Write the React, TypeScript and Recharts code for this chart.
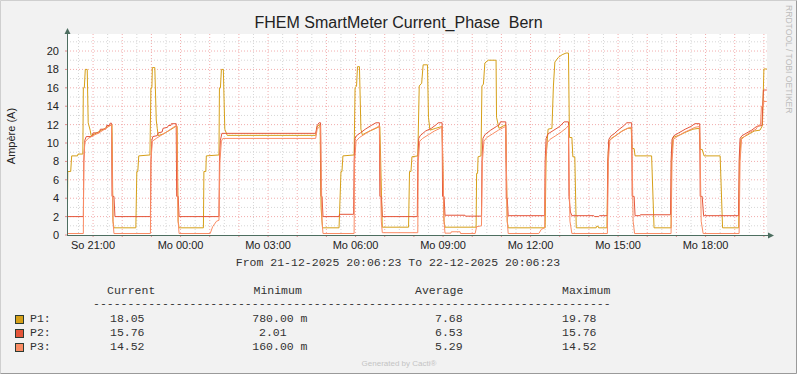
import {LineChart, Line, XAxis, YAxis, CartesianGrid} from "recharts";

// time strings ("So" = Sunday 21-12, "Mo" = Monday 22-12), values in Ampère
const P1: [string, number][] = [
  ["So 20:07", 0.78], ["So 20:08", 6.9], ["So 20:14", 6.9], ["So 20:16", 8.6], ["So 20:28", 8.6], ["So 20:29", 8.8], ["So 20:39", 8.8],
  ["So 20:40", 16.0], ["So 20:42", 16.0], ["So 20:44", 18.0], ["So 20:48", 18.0], ["So 20:50", 12.2], ["So 20:54", 11.4], ["So 20:56", 10.8],
  ["So 21:04", 11.0], ["So 21:14", 11.3], ["So 21:25", 11.6], ["So 21:35", 11.9], ["So 21:39", 12.0], ["So 21:41", 1.5], ["So 21:43", 0.78],
  ["So 22:28", 0.78], ["So 22:30", 6.9], ["So 22:32", 6.9], ["So 22:34", 8.6], ["So 22:57", 8.7], ["So 22:59", 16.0], ["So 23:01", 16.0],
  ["So 23:02", 18.2], ["So 23:07", 18.2], ["So 23:10", 12.5], ["So 23:12", 11.6], ["So 23:14", 10.8], ["So 23:25", 11.0], ["So 23:38", 11.4],
  ["So 23:50", 11.8], ["So 23:53", 11.8], ["So 23:55", 1.5], ["So 23:57", 0.78],
  ["Mo 00:47", 0.78], ["Mo 00:48", 6.9], ["Mo 00:52", 6.9], ["Mo 00:53", 8.6], ["Mo 01:19", 8.7], ["Mo 01:20", 16.0], ["Mo 01:22", 16.0],
  ["Mo 01:24", 18.0], ["Mo 01:28", 18.0], ["Mo 01:31", 11.5], ["Mo 01:36", 10.83], ["Mo 04:38", 10.83], ["Mo 04:41", 11.8], ["Mo 04:47", 12.0],
  ["Mo 04:49", 3.0], ["Mo 04:52", 0.78],
  ["Mo 05:26", 0.78], ["Mo 05:30", 6.9], ["Mo 05:32", 6.9], ["Mo 05:34", 8.6], ["Mo 05:57", 8.7], ["Mo 05:59", 16.0], ["Mo 06:02", 16.2],
  ["Mo 06:04", 18.3], ["Mo 06:08", 18.3], ["Mo 06:11", 11.5], ["Mo 06:14", 10.9], ["Mo 06:25", 11.2], ["Mo 06:38", 11.5], ["Mo 06:50", 11.8],
  ["Mo 06:55", 0.85],
  ["Mo 07:49", 0.85], ["Mo 07:51", 6.9], ["Mo 07:54", 6.9], ["Mo 07:56", 8.5], ["Mo 08:08", 8.6], ["Mo 08:11", 16.2], ["Mo 08:16", 16.5],
  ["Mo 08:19", 18.5], ["Mo 08:28", 18.5], ["Mo 08:30", 12.8], ["Mo 08:33", 11.4], ["Mo 08:45", 11.6], ["Mo 08:58", 11.8], ["Mo 09:02", 1.5],
  ["Mo 09:04", 0.85],
  ["Mo 10:08", 0.85], ["Mo 10:09", 6.7], ["Mo 10:11", 6.7], ["Mo 10:12", 8.5], ["Mo 10:18", 8.6], ["Mo 10:20", 16.2], ["Mo 10:23", 16.4],
  ["Mo 10:26", 18.7], ["Mo 10:33", 19.0], ["Mo 10:49", 19.0], ["Mo 10:50", 12.8], ["Mo 10:55", 11.6], ["Mo 11:09", 12.0], ["Mo 11:12", 1.5],
  ["Mo 11:14", 0.78],
  ["Mo 12:30", 0.78], ["Mo 12:32", 8.5], ["Mo 12:36", 11.5], ["Mo 12:44", 11.6], ["Mo 12:47", 16.2], ["Mo 12:50", 18.8], ["Mo 12:57", 19.3],
  ["Mo 13:05", 19.6], ["Mo 13:13", 19.78], ["Mo 13:18", 19.78], ["Mo 13:20", 10.6], ["Mo 13:25", 10.6], ["Mo 13:27", 8.5], ["Mo 13:31", 8.5],
  ["Mo 13:34", 0.78], ["Mo 14:15", 0.78], ["Mo 14:16", 0.95], ["Mo 14:19", 0.95], ["Mo 14:20", 0.78],
  ["Mo 14:37", 0.78], ["Mo 14:39", 8.0], ["Mo 14:41", 10.2], ["Mo 14:46", 10.5], ["Mo 14:58", 10.9], ["Mo 15:08", 11.3], ["Mo 15:20", 11.6],
  ["Mo 15:27", 11.6], ["Mo 15:29", 9.4], ["Mo 15:33", 9.4], ["Mo 15:35", 8.6], ["Mo 16:09", 8.6], ["Mo 16:14", 0.78],
  ["Mo 16:49", 0.78], ["Mo 16:50", 8.0], ["Mo 16:53", 10.6], ["Mo 17:08", 10.9], ["Mo 17:20", 11.2], ["Mo 17:34", 11.5], ["Mo 17:47", 11.6],
  ["Mo 17:49", 9.3], ["Mo 17:53", 9.3], ["Mo 17:57", 8.6], ["Mo 18:30", 8.6], ["Mo 18:35", 0.78],
  ["Mo 19:08", 0.78], ["Mo 19:10", 8.0], ["Mo 19:13", 10.5], ["Mo 19:27", 10.9], ["Mo 19:40", 11.3], ["Mo 19:52", 11.4], ["Mo 19:57", 11.9],
  ["Mo 20:00", 18.05], ["Mo 20:06", 18.05],
];

const P2: [string, number][] = [
  ["So 20:07", 2.0], ["So 20:40", 2.0], ["So 20:41", 8.0], ["So 20:43", 10.3], ["So 20:46", 10.7], ["So 20:58", 10.7], ["So 21:00", 11.1],
  ["So 21:13", 11.1], ["So 21:15", 11.5], ["So 21:26", 11.5], ["So 21:28", 11.9], ["So 21:34", 11.9], ["So 21:35", 12.15], ["So 21:38", 12.15],
  ["So 21:39", 4.2], ["So 21:43", 4.2], ["So 21:45", 2.0],
  ["So 22:58", 2.0], ["So 22:59", 8.0], ["So 23:01", 10.3], ["So 23:03", 10.7], ["So 23:12", 10.8], ["So 23:14", 11.1], ["So 23:22", 11.2],
  ["So 23:24", 11.6], ["So 23:33", 11.7], ["So 23:35", 11.9], ["So 23:40", 11.9], ["So 23:41", 12.1], ["So 23:51", 12.1], ["So 23:52", 4.2],
  ["So 23:55", 4.2], ["So 23:57", 2.0],
  ["Mo 01:19", 2.0], ["Mo 01:20", 8.0], ["Mo 01:22", 10.3], ["Mo 01:25", 11.05], ["Mo 04:38", 11.05], ["Mo 04:41", 11.9], ["Mo 04:45", 12.2],
  ["Mo 04:48", 12.2], ["Mo 04:49", 4.2], ["Mo 04:51", 4.2], ["Mo 04:53", 2.0],
  ["Mo 05:26", 2.0], ["Mo 05:27", 2.25], ["Mo 05:56", 2.25], ["Mo 05:57", 8.0], ["Mo 05:59", 10.5], ["Mo 06:02", 10.8], ["Mo 06:10", 11.1],
  ["Mo 06:20", 11.5], ["Mo 06:32", 11.9], ["Mo 06:42", 12.2], ["Mo 06:49", 12.2], ["Mo 06:50", 4.2], ["Mo 06:53", 4.2], ["Mo 06:55", 2.0],
  ["Mo 08:07", 2.0], ["Mo 08:08", 8.0], ["Mo 08:10", 10.5], ["Mo 08:13", 10.8], ["Mo 08:24", 11.3], ["Mo 08:36", 11.6], ["Mo 08:46", 12.0],
  ["Mo 08:50", 12.2], ["Mo 08:58", 12.2], ["Mo 08:59", 4.2], ["Mo 09:02", 4.2], ["Mo 09:04", 2.15], ["Mo 09:45", 2.15], ["Mo 09:46", 2.05],
  ["Mo 10:19", 2.05],
  ["Mo 10:20", 8.0], ["Mo 10:22", 10.5], ["Mo 10:26", 10.9], ["Mo 10:38", 11.4], ["Mo 10:50", 11.8], ["Mo 10:56", 12.0], ["Mo 10:58", 12.3],
  ["Mo 11:09", 12.3], ["Mo 11:10", 4.0], ["Mo 11:12", 4.0], ["Mo 11:14", 2.1],
  ["Mo 12:29", 2.1], ["Mo 12:30", 8.0], ["Mo 12:32", 10.5], ["Mo 12:36", 11.0], ["Mo 12:48", 11.4], ["Mo 13:00", 11.8], ["Mo 13:09", 12.3],
  ["Mo 13:18", 12.3], ["Mo 13:19", 4.2], ["Mo 13:22", 2.5], ["Mo 13:25", 2.1],
  ["Mo 14:10", 2.1], ["Mo 14:12", 2.0], ["Mo 14:20", 2.0], ["Mo 14:22", 2.1], ["Mo 14:38", 2.1],
  ["Mo 14:39", 8.0], ["Mo 14:41", 10.4], ["Mo 14:46", 10.8], ["Mo 14:52", 11.0], ["Mo 15:00", 11.4], ["Mo 15:10", 11.8], ["Mo 15:18", 12.2],
  ["Mo 15:28", 12.2], ["Mo 15:29", 4.2], ["Mo 15:33", 4.2], ["Mo 15:35", 2.1], ["Mo 15:45", 2.1], ["Mo 15:46", 2.2], ["Mo 16:48", 2.2],
  ["Mo 16:49", 8.0], ["Mo 16:51", 10.4], ["Mo 16:55", 10.8], ["Mo 17:05", 11.1], ["Mo 17:18", 11.5], ["Mo 17:30", 11.8], ["Mo 17:38", 12.1],
  ["Mo 17:48", 12.1], ["Mo 17:49", 4.2], ["Mo 17:53", 4.2], ["Mo 17:56", 2.1], ["Mo 19:08", 2.1],
  ["Mo 19:09", 8.0], ["Mo 19:11", 10.5], ["Mo 19:15", 10.8], ["Mo 19:25", 11.1], ["Mo 19:35", 11.4], ["Mo 19:45", 11.8], ["Mo 19:56", 11.9],
  ["Mo 19:59", 15.76], ["Mo 20:06", 15.76],
];

const P3: [string, number][] = [
  ["So 20:07", 0.16], ["So 20:40", 0.16], ["So 20:41", 8.0], ["So 20:43", 10.1], ["So 20:50", 10.5], ["So 21:00", 10.8], ["So 21:12", 11.1],
  ["So 21:24", 11.5], ["So 21:35", 11.9], ["So 21:38", 12.0], ["So 21:41", 1.5], ["So 21:43", 0.16],
  ["So 22:58", 0.16], ["So 22:59", 8.0], ["So 23:02", 10.2], ["So 23:10", 10.5], ["So 23:22", 10.9], ["So 23:34", 11.3], ["So 23:45", 11.7],
  ["So 23:52", 11.9], ["So 23:55", 1.5], ["So 23:57", 0.16],
  ["Mo 01:01", 0.16], ["Mo 01:06", 0.9], ["Mo 01:14", 1.5], ["Mo 01:19", 1.6], ["Mo 01:21", 8.0], ["Mo 01:24", 10.2], ["Mo 01:27", 10.5],
  ["Mo 04:38", 10.5], ["Mo 04:41", 11.5], ["Mo 04:48", 11.9], ["Mo 04:51", 1.5], ["Mo 04:53", 0.16],
  ["Mo 05:57", 0.16], ["Mo 05:58", 8.0], ["Mo 06:01", 10.2], ["Mo 06:08", 10.6], ["Mo 06:20", 11.0], ["Mo 06:32", 11.4], ["Mo 06:44", 11.7],
  ["Mo 06:49", 11.9], ["Mo 06:53", 1.5], ["Mo 06:55", 0.25],
  ["Mo 08:08", 0.25], ["Mo 08:09", 8.0], ["Mo 08:12", 10.2], ["Mo 08:18", 10.5], ["Mo 08:30", 10.9], ["Mo 08:42", 11.3], ["Mo 08:54", 11.6],
  ["Mo 08:58", 11.8], ["Mo 09:02", 1.5], ["Mo 09:04", 0.2], ["Mo 09:16", 0.2], ["Mo 09:17", 0.35], ["Mo 09:35", 0.35], ["Mo 09:36", 0.16],
  ["Mo 10:06", 0.16], ["Mo 10:09", 0.9], ["Mo 10:19", 1.0],
  ["Mo 10:21", 8.0], ["Mo 10:24", 10.2], ["Mo 10:30", 10.6], ["Mo 10:42", 11.0], ["Mo 10:54", 11.4], ["Mo 11:05", 11.7], ["Mo 11:09", 11.8],
  ["Mo 11:12", 1.5], ["Mo 11:14", 0.16],
  ["Mo 12:17", 0.16], ["Mo 12:22", 0.6], ["Mo 12:29", 0.8], ["Mo 12:31", 8.0], ["Mo 12:34", 10.0], ["Mo 12:40", 10.4], ["Mo 12:52", 10.8],
  ["Mo 13:03", 11.2], ["Mo 13:13", 11.6], ["Mo 13:18", 11.9], ["Mo 13:21", 1.5], ["Mo 13:25", 0.16],
  ["Mo 14:38", 0.16], ["Mo 14:40", 8.0], ["Mo 14:43", 10.3], ["Mo 14:50", 10.6], ["Mo 15:00", 11.0], ["Mo 15:12", 11.4], ["Mo 15:24", 11.7],
  ["Mo 15:28", 11.7], ["Mo 15:31", 1.5], ["Mo 15:34", 0.16],
  ["Mo 16:49", 0.16], ["Mo 16:51", 8.0], ["Mo 16:54", 10.4], ["Mo 17:02", 10.7], ["Mo 17:14", 11.1], ["Mo 17:26", 11.4], ["Mo 17:38", 11.7],
  ["Mo 17:48", 11.8], ["Mo 17:51", 1.5], ["Mo 17:55", 0.16],
  ["Mo 19:09", 0.16], ["Mo 19:11", 8.0], ["Mo 19:14", 10.4], ["Mo 19:22", 10.8], ["Mo 19:33", 11.2], ["Mo 19:44", 11.5], ["Mo 19:48", 11.9],
  ["Mo 19:53", 12.0], ["Mo 19:55", 14.0], ["Mo 19:58", 14.0], ["Mo 20:00", 14.52], ["Mo 20:06", 14.52],
];

const xLabels = ["So 21:00", "Mo 00:00", "Mo 03:00", "Mo 06:00", "Mo 09:00", "Mo 12:00", "Mo 15:00", "Mo 18:00"];
const yTicks = [0, 2, 4, 6, 8, 10, 12, 14, 16, 18, 20];
const yMinor = [1, 3, 5, 7, 9, 11, 13, 15, 17, 19, 21];

const legendRows = [
  {name: "P1:", color: "#D6A019", current: "18.05", min: "780.00 m", avg: "7.68", max: "19.78"},
  {name: "P2:", color: "#E4553A", current: "15.76", min: "2.01", avg: "6.53", max: "15.76"},
  {name: "P3:", color: "#FA8C64", current: "14.52", min: "160.00 m", avg: "5.29", max: "14.52"},
];

const START = 20 * 60 + 6 + 23 / 60;
const END = START + 1440;

const toMin = (s: string) => {
  const [d, hm] = s.split(" ");
  const [h, m] = hm.split(":").map(Number);
  return (d === "Mo" ? 1440 : 0) + h * 60 + m;
};
const toRows = (pts: [string, number][]) => pts.map(([t, v]) => ({t: toMin(t), v}));

// hourly / half-hourly grid positions
const hourLines: number[] = [];
const halfLines: number[] = [];
for (let m = 21 * 60; m < END; m += 60) hourLines.push(m);
for (let m = 20 * 60 + 30; m < END; m += 60) halfLines.push(m);

const fmtX = (t: number) => {
  const d = t >= 1440 ? "Mo" : "So";
  const h = Math.floor((t % 1440) / 60);
  const lbl = `${d} ${String(h).padStart(2, "0")}:00`;
  return xLabels.includes(lbl) ? lbl : "";
};

const mono = "'Liberation Mono', monospace";
const sans = "'Liberation Sans', Arial, sans-serif";
const axisCol = "#4d6e60";

const App = () => {
  return (
    <div style={{position: "absolute", left: 0, top: 0, width: 797, height: 374, background: "#f2f2f2"}}>
      <LineChart width={797} height={374} margin={{top: 34, right: 30, left: 7, bottom: 109}}>
        <CartesianGrid
          fill="#ffffff"
          stroke="#d6d6d6"
          strokeDasharray="1 2"
          horizontalValues={yMinor}
          verticalValues={halfLines}
        />
        <CartesianGrid
          stroke="#f2acac"
          strokeDasharray="1 2"
          horizontalValues={yTicks.slice(1)}
          verticalValues={hourLines}
        />
        <XAxis
          type="number"
          dataKey="t"
          domain={[START, END]}
          allowDataOverflow
          ticks={hourLines}
          interval={0}
          tickFormatter={fmtX}
          height={30}
          axisLine={false}
          tickSize={2}
          tickMargin={4}
          tickLine={{stroke: "#e08c8c"}}
          tick={{fontSize: 11, fill: "#222", fontFamily: sans}}
        />
        <YAxis
          type="number"
          domain={[0, 21.85]}
          allowDataOverflow
          ticks={yTicks}
          interval={0}
          width={60}
          axisLine={false}
          tickSize={2}
          tickMargin={6}
          tickLine={{stroke: "#e08c8c"}}
          tick={{fontSize: 11, fill: "#222", fontFamily: sans}}
        />
        <Line data={toRows(P1)} dataKey="v" type="linear" stroke="#D6A019" strokeWidth={1} dot={false} isAnimationActive={false} />
        <Line data={toRows(P2)} dataKey="v" type="linear" stroke="#E4553A" strokeWidth={1} dot={false} isAnimationActive={false} />
        <Line data={toRows(P3)} dataKey="v" type="linear" stroke="#FA8C64" strokeWidth={1} dot={false} isAnimationActive={false} />
      </LineChart>

      <svg width={797} height={374} style={{position: "absolute", left: 0, top: 0, pointerEvents: "none"}}>
        <line x1={0.5} y1={0.5} x2={796.5} y2={0.5} stroke="#cfcfcf" />
        <line x1={0.5} y1={0.5} x2={0.5} y2={373.5} stroke="#cfcfcf" />
        <line x1={0.5} y1={373.5} x2={796.5} y2={373.5} stroke="#9a9a9a" />
        <line x1={796.5} y1={0.5} x2={796.5} y2={373.5} stroke="#9a9a9a" />

        {/* axes with arrows */}
        <line x1={67.5} y1={235.5} x2={67.5} y2={32} stroke={axisCol} />
        <polygon points="64.5,34 70.5,34 67.5,28" fill={axisCol} />
        <line x1={67} y1={235.5} x2={770} y2={235.5} stroke={axisCol} />
        <polygon points="768,232.5 768,238.5 774,235.5" fill={axisCol} />

        <text x={398.5} y={28.3} textAnchor="middle" fontFamily={sans} fontSize={16} fill="#222" style={{whiteSpace: "pre"}}>
          FHEM SmartMeter Current_Phase  Bern
        </text>
        <text x={15} y={136} transform="rotate(-90 15 136)" textAnchor="middle" fontFamily={sans} fontSize={11} fill="#222">
          Ampère (A)
        </text>
        <text x={785.5} y={5} transform="rotate(90 785.5 5)" fontFamily={sans} fontSize={8.6} fill="#bdbdbd">
          RRDTOOL / TOBI OETIKER
        </text>

        <g fontFamily={mono} fontSize={11.5} fill="#333">
          <text x={398} y={266} textAnchor="middle">From 21-12-2025 20:06:23 To 22-12-2025 20:06:23</text>
          <text x={107} y={294}>Current</text>
          <text x={253.5} y={294}>Minimum</text>
          <text x={415} y={294}>Average</text>
          <text x={562} y={294}>Maximum</text>
          <text x={93} y={306.5}>{"-".repeat(75)}</text>
          {legendRows.map((r, i) => (
            <g key={r.name}>
              <rect x={15.5} y={315.5 + i * 14} width={8} height={8} fill={r.color} stroke="#2b3b33" />
              <text x={30} y={322 + i * 14}>{r.name}</text>
              <text x={110} y={322 + i * 14}>{r.current}</text>
              <text x={r.min.length > 5 ? 252.3 : 259} y={322 + i * 14}>{r.min}</text>
              <text x={435} y={322 + i * 14}>{r.avg}</text>
              <text x={562} y={322 + i * 14}>{r.max}</text>
            </g>
          ))}
        </g>
        <text x={399} y={366} textAnchor="middle" fontFamily={sans} fontSize={8} fill="#c4c4c4">
          Generated by Cacti®
        </text>
      </svg>
    </div>
  );
};

export default App;
